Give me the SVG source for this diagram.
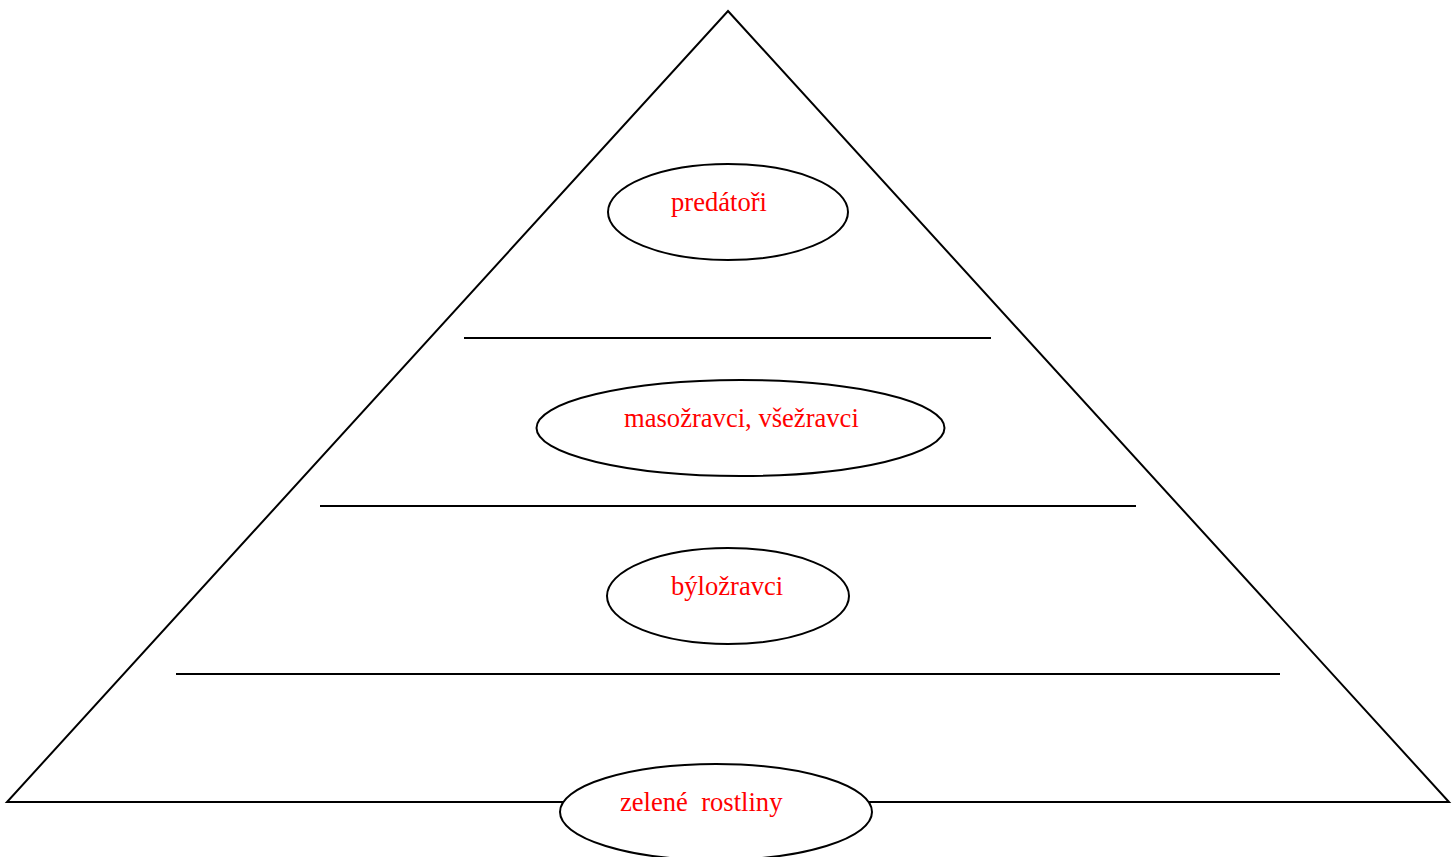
<svg xmlns="http://www.w3.org/2000/svg" width="1456" height="857" viewBox="0 0 1456 857">
<style>
.shape{fill:none;stroke:#000;stroke-width:2}
.node ellipse{fill:#fff;stroke:#000;stroke-width:2}
.lbl{font-family:"Liberation Serif","Times New Roman",serif;font-size:26.6px;fill:#ff0000;white-space:pre}
</style>
<rect width="1456" height="857" fill="#fff"/>
<g id="pyramid">
<polygon class="shape" points="728,11 1449,802 7,802"/>
</g>
<g id="connectors">
<line class="shape" x1="464" y1="338" x2="991" y2="338"/>
<line class="shape" x1="320" y1="506" x2="1136" y2="506"/>
<line class="shape" x1="176" y1="674" x2="1280" y2="674"/>
</g>
<g id="predatori" class="node">
<ellipse cx="728" cy="212" rx="120" ry="48"/>
<text class="lbl" x="671" y="211">predátoři</text>
</g>
<g id="masozravci" class="node">
<ellipse cx="740.5" cy="428" rx="204" ry="48"/>
<text class="lbl" x="624" y="427">masožravci, všežravci</text>
</g>
<g id="bylozravci" class="node">
<ellipse cx="728" cy="596" rx="121" ry="48"/>
<text class="lbl" x="671" y="595">býložravci</text>
</g>
<g id="zelene" class="node">
<ellipse cx="716" cy="812" rx="156" ry="48"/>
<text class="lbl" x="620" y="811" xml:space="preserve">zelené  rostliny</text>
</g>
</svg>
